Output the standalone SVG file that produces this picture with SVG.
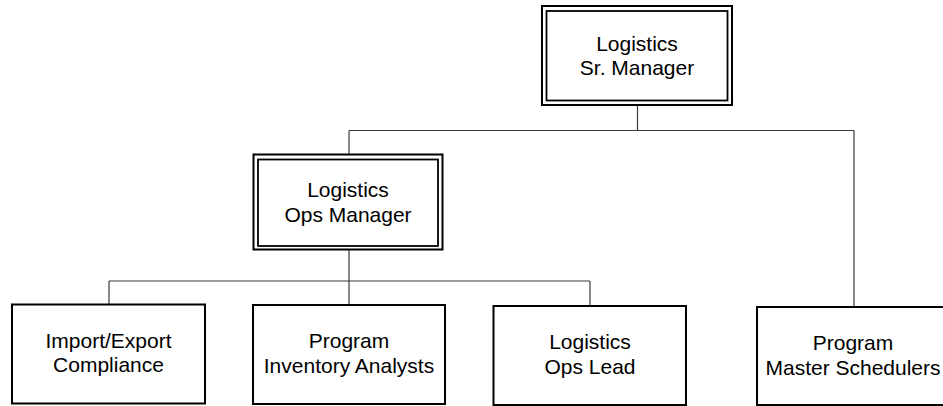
<svg xmlns="http://www.w3.org/2000/svg" width="943" height="406" viewBox="0 0 943 406">
  <style>
    .box { fill: #ffffff; stroke: #000000; stroke-width: 2; }
    .inner { fill: none; stroke: #000000; stroke-width: 1.8; }
    .label { font-family: "Liberation Sans", Arial, sans-serif; font-size: 21px; fill: #000000; text-anchor: middle; }
    .wire { fill: none; stroke: #3a3a3a; stroke-width: 1.2; }
  </style>
  <rect width="943" height="406" fill="#ffffff"/>

  <!-- reporting lines -->
  <g id="connectors">
    <path class="wire" d="M637.5,105 V130.5 M349,130.5 H854 M349,130.5 V154 M854,130.5 V307"/>
    <path class="wire" d="M349,250 V281 M109,281 H590 M109,281 V304 M349,281 V305 M590,281 V306"/>
  </g>

  <g id="sr-manager">
    <rect class="box" x="542" y="6" width="190" height="99"/>
    <rect class="inner" x="546.5" y="11" width="181" height="89.5"/>
    <text class="label" x="637" y="51">Logistics</text>
    <text class="label" x="637" y="75">Sr. Manager</text>
  </g>

  <g id="ops-manager">
    <rect class="box" x="253.5" y="154.5" width="189" height="95"/>
    <rect class="inner" x="258" y="159.5" width="180" height="86.5"/>
    <text class="label" x="348" y="197">Logistics</text>
    <text class="label" x="348" y="221.5">Ops Manager</text>
  </g>

  <g id="import-export">
    <rect class="box" x="12" y="304.5" width="193" height="99"/>
    <text class="label" x="108.5" y="347.5">Import/Export</text>
    <text class="label" x="108.5" y="372">Compliance</text>
  </g>

  <g id="inventory-analysts">
    <rect class="box" x="253" y="305" width="192" height="99"/>
    <text class="label" x="349" y="348">Program</text>
    <text class="label" x="349" y="372.5">Inventory Analysts</text>
  </g>

  <g id="ops-lead">
    <rect class="box" x="493.5" y="306" width="192.5" height="99"/>
    <text class="label" x="590" y="349">Logistics</text>
    <text class="label" x="590" y="373.5">Ops Lead</text>
  </g>

  <g id="master-schedulers">
    <rect class="box" x="757" y="307" width="200" height="98"/>
    <text class="label" x="853" y="350">Program</text>
    <text class="label" x="853" y="374.5">Master Schedulers</text>
  </g>
</svg>
